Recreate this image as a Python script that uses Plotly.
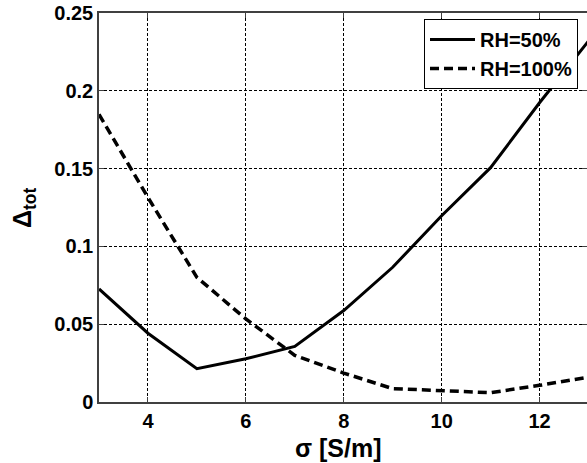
import plotly.graph_objects as go

sigma = [3, 4, 5, 6, 7, 8, 9, 10, 11, 12, 13]
rh50 = [0.0727, 0.0442, 0.0214, 0.0278, 0.0357, 0.0588, 0.0866, 0.1197, 0.1506, 0.1923, 0.2320]
rh100 = [0.1849, 0.1314, 0.0801, 0.0534, 0.0300, 0.0186, 0.0086, 0.0075, 0.0060, 0.0107, 0.0160]

x_ticks = [4, 6, 8, 10, 12]
y_ticks = [0, 0.05, 0.1, 0.15, 0.2, 0.25]
y_tick_labels = ["0", "0.05", "0.1", "0.15", "0.2", "0.25"]

FONT = "Liberation Sans, Arial, sans-serif"

L, R, T, B = 99, 0, 13, 61
W, H = 587, 463
PW, PH = W - L - R, H - T - B

fig = go.Figure()
fig.add_trace(go.Scatter(x=sigma, y=rh50, mode="lines", name="RH=50%",
                         line=dict(color="black", width=3)))
fig.add_trace(go.Scatter(x=sigma, y=rh100, mode="lines", name="RH=100%",
                         line=dict(color="black", width=3.5, dash="9px,5px")))

axis_common = dict(
    showline=True, linecolor="#404040", linewidth=1.5, mirror="allticks",
    ticks="inside", ticklen=5, tickcolor="#404040",
    showgrid=True, gridcolor="black", gridwidth=1, griddash="3px,2px",
    zeroline=False, automargin=False,
    tickfont=dict(family=FONT, size=20, color="black", weight="bold"),
)

fig.update_layout(
    width=W, height=H,
    margin=dict(l=L, r=R, t=T, b=B, autoexpand=False),
    paper_bgcolor="white", plot_bgcolor="white",
    font=dict(family=FONT, color="black"),
    xaxis=dict(range=[3, 12.97], tickvals=x_ticks, **axis_common),
    yaxis=dict(range=[0, 0.25], tickvals=y_ticks, ticktext=y_tick_labels, **axis_common),
    legend=dict(x=(578 - L) / PW, y=(H - B - 19) / PH, xanchor="right", yanchor="top",
                bgcolor="white", bordercolor="black", borderwidth=1, itemwidth=45,
                font=dict(family=FONT, size=20, color="black", weight="bold")),
    showlegend=True,
)

fig.add_annotation(text="σ [S/m]", xref="paper", yref="paper",
                   x=(338 - L) / PW, y=(H - B - 448) / PH, xanchor="center", yanchor="middle",
                   showarrow=False, font=dict(family=FONT, size=25, color="black", weight="bold"))
fig.add_annotation(text="Δ<sub>tot</sub>", xref="paper", yref="paper", textangle=-90,
                   x=(24 - L) / PW, y=(H - B - 208) / PH, xanchor="center", yanchor="middle",
                   showarrow=False, font=dict(family=FONT, size=25, color="black", weight="bold"))

fig.write_html("out.html", config={"displayModeBar": False},
               post_script="document.body.style.margin='0';document.body.style.overflow='hidden';")
